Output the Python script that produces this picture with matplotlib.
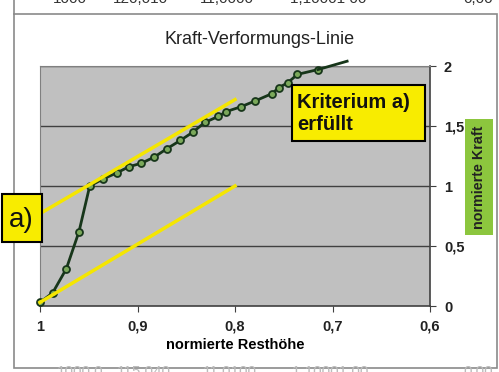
import matplotlib.pyplot as plt
from matplotlib.patches import Rectangle
from matplotlib.lines import Line2D

plt.rcParams['font.family'] = ['Liberation Sans', 'DejaVu Sans']

# data
resthoehe = [1.0, 0.987, 0.973, 0.960, 0.949, 0.935, 0.921, 0.909, 0.896, 0.883,
             0.870, 0.856, 0.843, 0.831, 0.817, 0.809, 0.794, 0.779, 0.762, 0.755,
             0.746, 0.736, 0.715]
kraft = [0.03, 0.11, 0.31, 0.62, 1.00, 1.06, 1.11, 1.16, 1.19, 1.24,
         1.31, 1.38, 1.45, 1.53, 1.58, 1.62, 1.66, 1.71, 1.77, 1.82,
         1.86, 1.93, 1.97]
tail_x = [0.715, 0.685]
tail_y = [1.97, 2.04]

upper_x = [1.0, 0.8]
upper_y = [0.77, 1.72]
lower_x = [1.0, 0.8]
lower_y = [0.03, 1.0]

xticks = [1.0, 0.9, 0.8, 0.7, 0.6]
xticklabels = ['1', '0,9', '0,8', '0,7', '0,6']
yticks = [0, 0.5, 1, 1.5, 2]
yticklabels = ['0', '0,5', '1', '1,5', '2']

W, H = 499, 372
def fx(px):
    return px / W
def fy(py):
    return 1 - py / H

fig = plt.figure(figsize=(W / 100, H / 100), dpi=100)
fig.patch.set_facecolor('white')

# chart frame and table fragments
fig.patches.append(Rectangle((fx(14), fy(368)), fx(497) - fx(14), fy(14) - fy(368),
                             transform=fig.transFigure, fill=False,
                             edgecolor='#8a8a8a', lw=1.2))
fig.lines.append(Line2D([fx(14), fx(14)], [fy(0), fy(14)], transform=fig.transFigure,
                        color='#8a8a8a', lw=1.2))
for txt, px in [('1000', 53), ('120,010', 113), ('11,0000', 200),
                ('1,10001 00', 290), ('0,00', 463)]:
    fig.text(fx(px), fy(6), txt, fontsize=11, color='#333333', va='bottom')
for txt, px in [('1000,0', 57), ('115,040', 117), ('11,0100', 203),
                ('1,10001 00', 292), ('0,00', 463)]:
    fig.text(fx(px), fy(365), txt, fontsize=11, color='#bbbbbb', va='top')

fig.text(fx(260), fy(40), 'Kraft-Verformungs-Linie', fontsize=13,
         ha='center', va='center', color='#222222')

ax = fig.add_axes([fx(40), fy(306), fx(430) - fx(40), fy(66) - fy(306)])
ax.set_facecolor('#c0c0c0')
ax.set_xlim(1.0, 0.6)
ax.set_ylim(0, 2)

for y in yticks[1:]:
    ax.axhline(y, color='#404040', lw=1, zorder=1)

ax.plot(resthoehe, kraft, color='#17361a', lw=2, marker='o', markersize=5,
        markerfacecolor='#7aa85a', markeredgecolor='#17361a', markeredgewidth=1.3,
        zorder=3, clip_on=False)
ax.plot(tail_x, tail_y, color='#17361a', lw=2, zorder=3, clip_on=False)

ax.plot(upper_x, upper_y, color='#f5e600', lw=2.5, zorder=4, clip_on=False)
ax.plot(lower_x, lower_y, color='#f5e600', lw=2.5, zorder=4, clip_on=False)

ax.yaxis.tick_right()
ax.yaxis.set_label_position('right')
ax.set_xticks(xticks)
ax.set_xticklabels(xticklabels, fontsize=10.5, fontweight='bold', color='#222222')
ax.set_yticks(yticks)
ax.set_yticklabels(yticklabels, fontsize=10.5, fontweight='bold', color='#222222')
ax.tick_params(axis='both', direction='out', length=4, color='#404040', pad=6)

for side in ['left', 'top']:
    ax.spines[side].set_color('#808080')
for side in ['right', 'bottom']:
    ax.spines[side].set_color('#404040')
    ax.spines[side].set_linewidth(1.2)

ax.set_xlabel('normierte Resthöhe', fontsize=10.5, fontweight='bold', labelpad=3)

# y label in green box
fig.patches.append(Rectangle((fx(465), fy(235)), fx(493) - fx(465), fy(119) - fy(235),
                             transform=fig.transFigure, facecolor='#8cc63e',
                             edgecolor='none'))
fig.text(fx(479), fy(177), 'normierte Kraft', rotation=90, fontsize=10.3,
         fontweight='bold', ha='center', va='center', color='#222222')

# annotation boxes
fig.patches.append(Rectangle((fx(292), fy(141)), fx(425) - fx(292), fy(85) - fy(141),
                             transform=fig.transFigure, facecolor='#f8ec00',
                             edgecolor='black', lw=1.5, zorder=5))
fig.text(fx(297), fy(113), 'Kriterium a)\nerfüllt', fontsize=14.5, fontweight='bold',
         ha='left', va='center', color='#111111', linespacing=1.2, zorder=6)

fig.patches.append(Rectangle((fx(2), fy(242)), fx(42) - fx(2), fy(194) - fy(242),
                             transform=fig.transFigure, facecolor='#f8ec00',
                             edgecolor='black', lw=1.5, zorder=5))
fig.text(fx(21), fy(220), 'a)', fontsize=20, ha='center', va='center',
         color='#111111', zorder=6)

fig.savefig('out.png', dpi=100)
